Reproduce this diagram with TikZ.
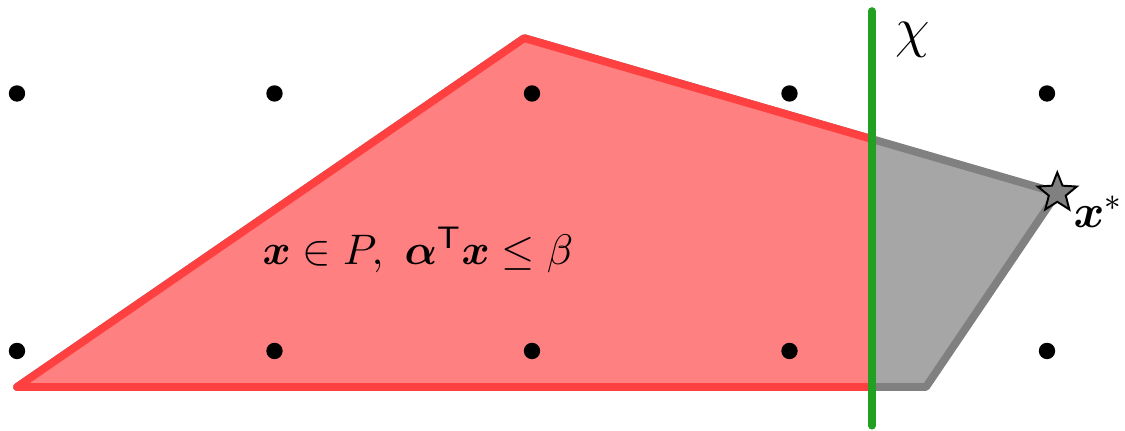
\documentclass[tikz,border=0pt]{standalone}
\usepackage{amsmath}
\usepackage{bm}
\usetikzlibrary{shapes.geometric}

\definecolor{cutgreen}{RGB}{34,160,34}

\begin{document}
\begin{tikzpicture}[x=2.32cm,y=2.32cm,
    pt/.style={circle,fill=black,inner sep=0pt,minimum size=4.2pt},
    hull/.style={line width=2pt,line join=round},
    optstar/.style={star,star points=5,star point ratio=2.3,draw=black,fill=gray,inner sep=0pt,minimum size=10.5pt,line width=0.5pt}]
                \useasboundingbox (-0.066,-0.307) rectangle (4.303,1.363);

                % corners of P
                \coordinate (v1) at (0,-0.14);
                \coordinate (v2) at (1.97,1.215);
                \coordinate (v3) at (4.04,0.614);
                \coordinate (v4) at (3.53,-0.14);

                % the whole polytope, in gray
                \filldraw[hull,draw=gray,fill=black!35] (v1)--(v2)--(v3)--(v4)--cycle;

                % the part left of the cut
                \begin{scope}
                    \clip (-1,-1) rectangle (3.32,2);
                    \filldraw[hull,draw=red!75,fill=red!50] (v1)--(v2)--(v3)--(v4)--cycle;
                \end{scope}

                % the cut
                \coordinate (c1) at (3.32,1.32);
                \coordinate (c2) at (3.32,-0.29);
                \draw[cutgreen,line width=2pt,line cap=round] (c1)--(c2);
                \node[anchor=north west] (chi) at (3.36,1.33) {\Large$\chi$};

                % integer points
                \foreach \i in {0,...,4}{
                    \node[pt] (p\i0) at (\i,0) {};
                    \node[pt] (p\i1) at (\i,1) {};
                }

                \node[optstar] (xs) at (v3) {};
                \node[anchor=west,inner sep=1pt] (xl) at (4.085,0.54) {\large$\bm{x}^*$};

                \node (lp) at (1.557,0.392) {\fontsize{11}{13}\selectfont$\bm{x}\in P,\ \bm{\alpha}^{\mathsf{T}}\bm{x}\leq\beta$};
\end{tikzpicture}
\end{document}
